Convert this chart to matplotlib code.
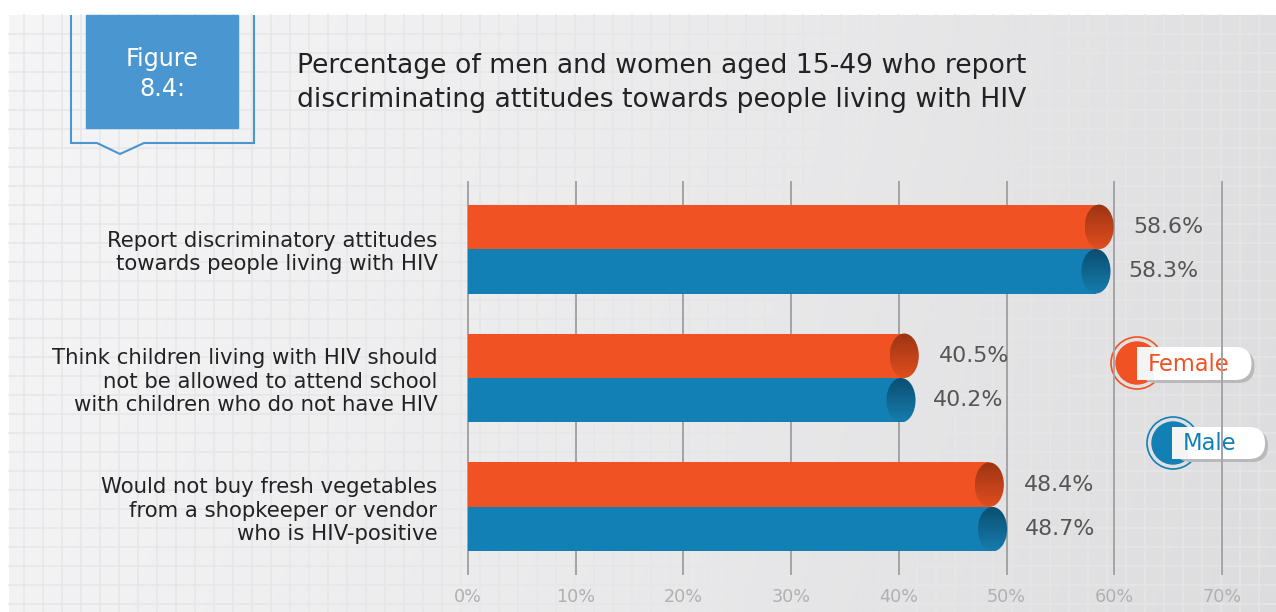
import numpy as np
import matplotlib
matplotlib.use("Agg")
import matplotlib.pyplot as plt
import matplotlib.transforms as mtrans
from matplotlib.patches import Ellipse, Rectangle, Circle, FancyBboxPatch, Polygon

# ---- data ----
categories = ["Report discriminatory attitudes\ntowards people living with HIV",
              "Think children living with HIV should\nnot be allowed to attend school\nwith children who do not have HIV",
              "Would not buy fresh vegetables\nfrom a shopkeeper or vendor\nwho is HIV-positive"]
female = [58.6, 40.5, 48.4]
male = [58.3, 40.2, 48.7]
xticks = [0, 10, 20, 30, 40, 50, 60, 70]
xticklabels = ["0%", "10%", "20%", "30%", "40%", "50%", "60%", "70%"]

ORANGE = "#f15223"; BLUE = "#1380b5"
W, H = 1276, 612
fig = plt.figure(figsize=(W / 100, H / 100), dpi=100)
fig.patch.set_facecolor("white")

# ---- background: gradient + faint grid (pixel coords) ----
bg = fig.add_axes([0, 0, 1, 1]); bg.set_xlim(0, W); bg.set_ylim(H, 0); bg.axis("off")
gx = np.linspace(0, 1, 300)[None, :]; gy = np.linspace(0, 1, 150)[:, None]
val = 0.962 - 0.085 * gx ** 1.2 - 0.012 * gy
bg.imshow(np.dstack([val, val, val + 0.006]).clip(0, 1), extent=[9, W, H, 15], aspect="auto", zorder=0)
for x in range(24, W, 19):
    bg.plot([x, x], [15, H], color="#e6e6e8", lw=1.4, alpha=0.75, zorder=1)
for y in range(34, H, 19):
    bg.plot([9, W], [y, y], color="#e6e6e8", lw=1.4, alpha=0.75, zorder=1)

# ---- figure label box ----
bg.add_patch(Polygon([(71, 15), (71, 143), (97, 143), (120, 154), (144, 143), (254, 143), (254, 15)],
                     closed=False, fill=False, edgecolor="#4a96d0", lw=1.5, zorder=3))
bg.add_patch(Rectangle((86, 15), 152, 113, color="#4a96d0", zorder=4))
bg.text(162, 59, "Figure", color="white", fontsize=17.2, ha="center", va="center", zorder=5)
bg.text(162, 89, "8.4:", color="white", fontsize=17.2, ha="center", va="center", zorder=5)
bg.text(297, 66, "Percentage of men and women aged 15-49 who report", fontsize=19.2,
        color="#222222", va="center", ha="left", zorder=5)
bg.text(297, 100, "discriminating attitudes towards people living with HIV", fontsize=19.2,
        color="#222222", va="center", ha="left", zorder=5)

# ---- legend pills ----
def pill(cx, cy, x0, x1, y0, y1, col, label):
    bg.add_patch(Circle((cx, cy), 26, fill=False, edgecolor=col, lw=1.2, zorder=5))
    bg.add_patch(Circle((cx, cy), 21, color=col, zorder=5))
    r = (y1 - y0) / 2
    bg.add_patch(FancyBboxPatch((x0 + 3, y0 + 3), x1 - x0 - r, y1 - y0, boxstyle=f"round,pad=0,rounding_size={r}",
                                facecolor="#b9b9bb", edgecolor="none", zorder=6))
    bg.add_patch(FancyBboxPatch((x0, y0), x1 - x0 - r, y1 - y0, boxstyle=f"round,pad=0,rounding_size={r}",
                                facecolor="white", edgecolor="none", zorder=7))
    bg.add_patch(Rectangle((x0, y0), r, y1 - y0, facecolor="#f4f4f4", edgecolor="none", zorder=7))
    bg.text(x0 + 11, (y0 + y1) / 2 + 1, label, color=col, fontsize=16.3, va="center", ha="left", zorder=8)

pill(1137, 363, 1137, 1268, 347, 380, ORANGE, "Female")
pill(1173, 443, 1172, 1281, 427, 459, BLUE, "Male")

# ---- main chart ----
ax = fig.add_axes([468 / W, (H - 574) / H, 754 / W, (574 - 182) / H])
ax.patch.set_alpha(0)
for s in ax.spines.values():
    s.set_visible(False)
ax.set_xlim(0, 70)
ylim = (2.52, -0.52)
ax.set_ylim(*ylim)
for t in xticks:
    ax.axvline(t, color="#a4a4a6", lw=1.4, zorder=1, clip_on=False)

h = 0.345
ypos = np.arange(len(categories))
ax.barh(ypos - h / 2, female, height=h, color=ORANGE, zorder=2)
ax.barh(ypos + h / 2, male, height=h, color=BLUE, zorder=2)

def cap(v, yc, top, bot):
    e = Ellipse((v, yc), 2.7, h, facecolor="none", edgecolor="none", zorder=3)
    ax.add_patch(e)
    c0 = np.array(matplotlib.colors.to_rgb(top)); c1 = np.array(matplotlib.colors.to_rgb(bot))
    t = np.linspace(0, 1, 64)[:, None]
    img = (c0 * (1 - t) + c1 * t)[:, None, :].repeat(4, axis=1)
    im = ax.imshow(img, extent=[v - 1.35, v + 1.35, yc + h / 2, yc - h / 2], aspect="auto", zorder=3)
    im.set_clip_path(e)

for i in range(len(categories)):
    cap(female[i], ypos[i] - h / 2, "#9c3413", "#e04e1f")
    cap(male[i], ypos[i] + h / 2, "#0a4e70", "#167cad")
    ax.text(female[i] + 3.2, ypos[i] - h / 2, f"{female[i]}%", fontsize=15.9, color="#555555",
            va="center", ha="left", zorder=4)
    ax.text(male[i] + 3.0, ypos[i] + h / 2, f"{male[i]}%", fontsize=15.9, color="#555555",
            va="center", ha="left", zorder=4)

ax.set_xlim(0, 70); ax.set_ylim(*ylim)
ax.set_xticks(xticks)
ax.set_xticklabels(xticklabels, fontsize=12.7, color="#b0b0b2")
ax.set_yticks(ypos)
ax.set_yticklabels(categories, fontsize=15.35, color="#222222")
shift = mtrans.ScaledTranslation(0, 3 / 100, fig.dpi_scale_trans)
for lab in ax.get_yticklabels():
    lab.set_linespacing(1.2); lab.set_multialignment("right")
    lab.set_transform(lab.get_transform() + shift)
ax.tick_params(axis="x", length=0, pad=10)
ax.tick_params(axis="y", length=0, pad=22)

fig.savefig("out.png", dpi=100)
